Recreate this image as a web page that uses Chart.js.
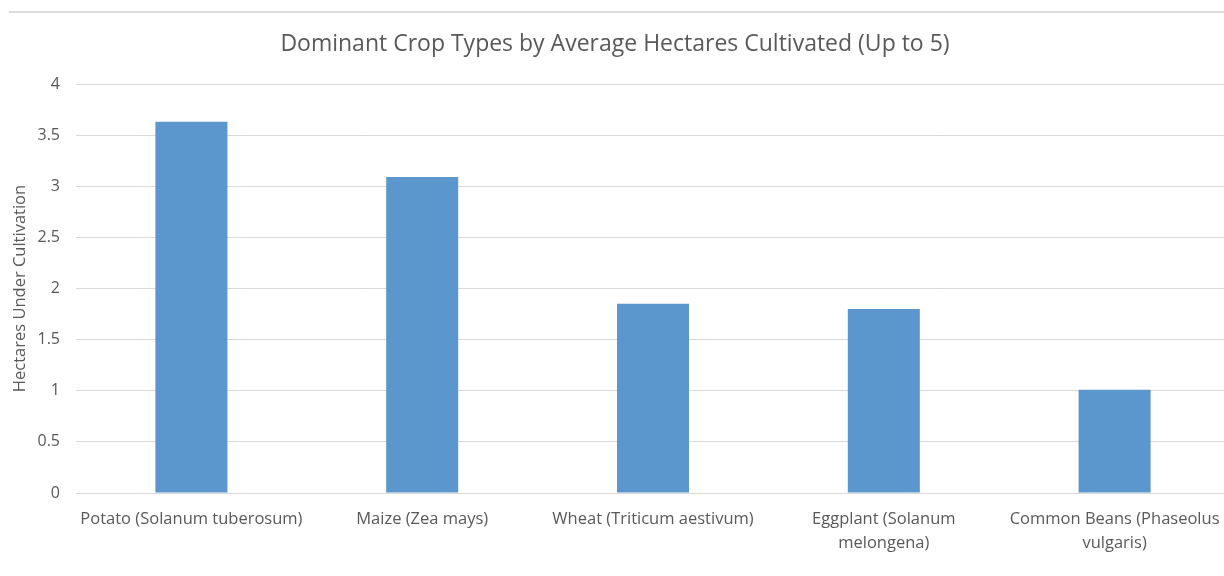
<!DOCTYPE html>
<html>
<head>
<meta charset="utf-8">
<title>Dominant Crop Types</title>
<script src="https://cdn.jsdelivr.net/npm/chart.js@4.4.1/dist/chart.umd.min.js"></script>
<style>
    html, body { margin: 0; padding: 0; background: #fff; overflow: hidden; }
    #wrap { position: relative; width: 1224px; height: 576px; overflow: hidden; }
    #frame { position: absolute; left: 9px; right: 0; top: 11px; height: 2px; background: #dcdcdc; }
    #cropChart { position: absolute; left: 0; top: 0; }
</style>
</head>
<body>
<div id="wrap">
    <div id="frame"></div>
    <canvas id="cropChart" width="1240" height="576"></canvas>
</div>
<script>
const crops = [
    "Potato (Solanum tuberosum)",
    "Maize (Zea mays)",
    "Wheat (Triticum aestivum)",
    ["Eggplant (Solanum", "melongena)"],
    ["Common Beans (Phaseolus", "vulgaris)"]
];
const hectares = [3.63, 3.09, 1.85, 1.80, 1.01];
const yTicks = [0, 0.5, 1, 1.5, 2, 2.5, 3, 3.5, 4];

const textColor = "#595959";
const gridColor = "#d9d9d9";
const fontFamily = "'Open Sans', 'Noto Sans', sans-serif";

new Chart(document.getElementById("cropChart"), {
    type: "bar",
    data: {
        labels: crops,
        datasets: [{
            label: "Hectares",
            data: hectares,
            backgroundColor: "#5b96cc",
            borderWidth: 0,
            barPercentage: 0.312,
            categoryPercentage: 1
        }]
    },
    options: {
        responsive: false,
        animation: false,
        layout: { padding: { left: 0, right: 10, top: 0, bottom: 0 } },
        plugins: {
            legend: { display: false },
            tooltip: { enabled: false },
            title: {
                display: true,
                text: "Dominant Crop Types by Average Hectares Cultivated (Up to 5)",
                color: textColor,
                font: { family: fontFamily, size: 23, weight: "normal" },
                padding: { top: 31, bottom: 25.4 }
            }
        },
        scales: {
            x: {
                grid: { display: false, drawTicks: false },
                border: { display: true, color: gridColor, width: 1 },
                ticks: {
                    color: textColor,
                    font: { family: fontFamily, size: 16.5, lineHeight: 1.45 },
                    padding: 14,
                    maxRotation: 0,
                    autoSkip: false
                },
                afterFit: scale => { scale.height = 83; }
            },
            y: {
                min: 0,
                max: 4,
                afterBuildTicks: scale => { scale.ticks = yTicks.map(v => ({ value: v })); },
                grid: { color: gridColor, lineWidth: 1, drawTicks: false },
                border: { display: false },
                ticks: {
                    color: textColor,
                    font: { family: fontFamily, size: 16 },
                    padding: 16,
                    callback: v => String(v)
                },
                title: {
                    display: true,
                    text: "Hectares Under Cultivation",
                    color: textColor,
                    font: { family: fontFamily, size: 16.5, weight: "normal" },
                    padding: { top: 10, bottom: 0 }
                },
                afterFit: scale => { scale.width = 76; }
            }
        }
    }
});
</script>
</body>
</html>
